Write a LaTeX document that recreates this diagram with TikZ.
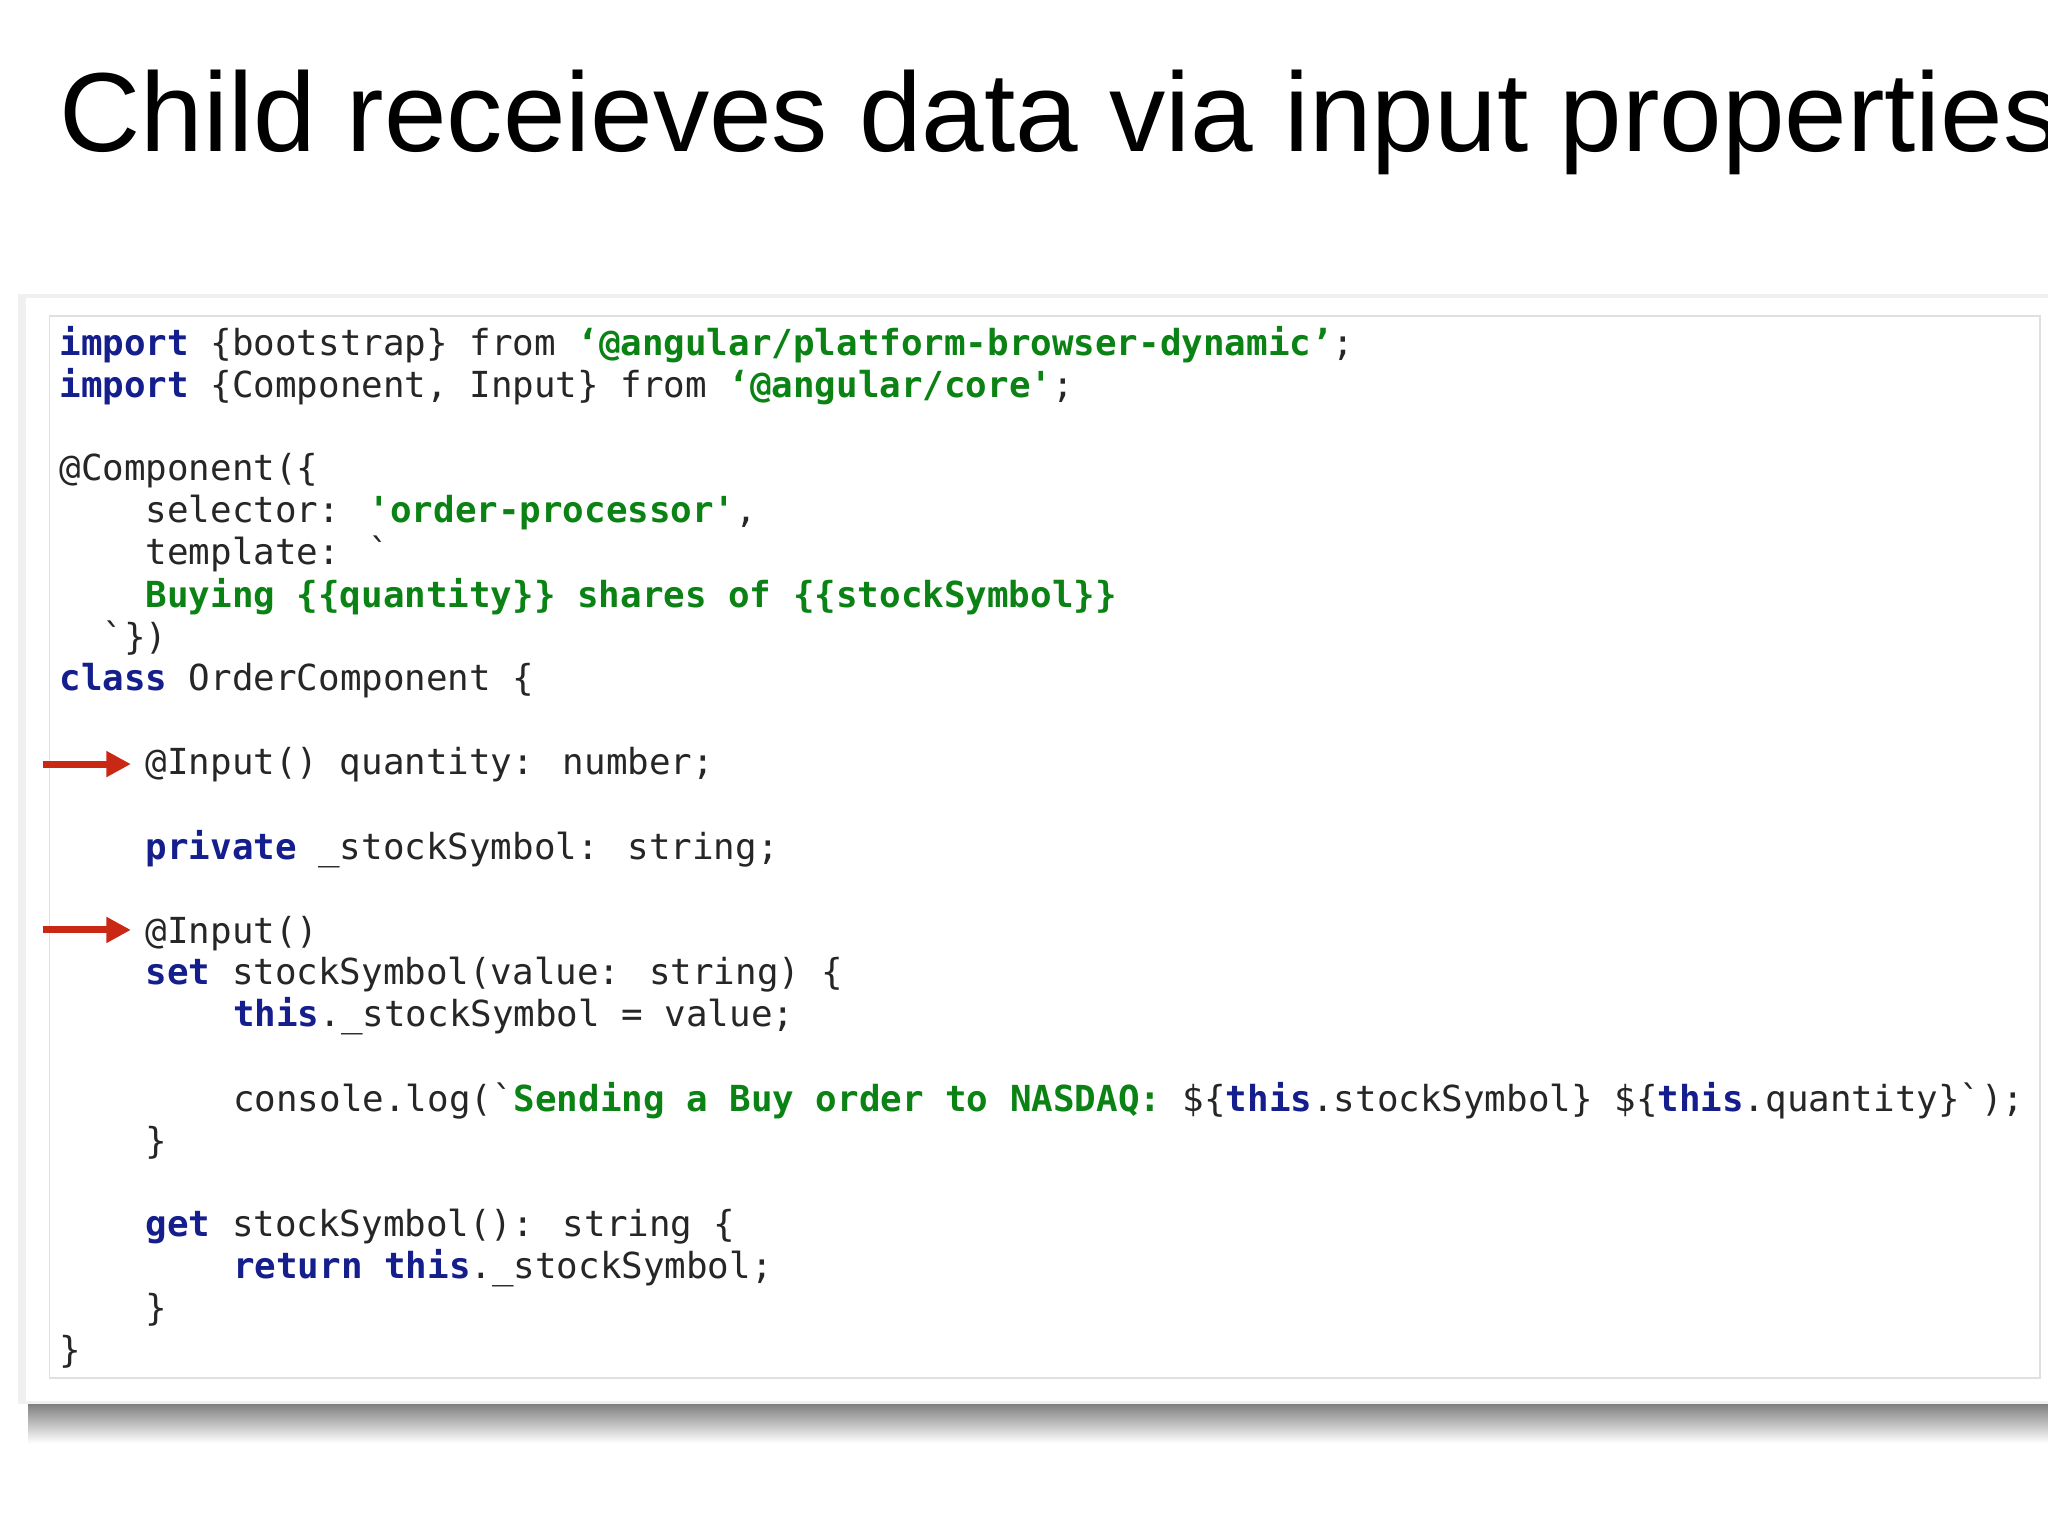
\documentclass[tikz,border=0pt]{standalone}
\usepackage{fontspec}
\setmainfont{Liberation Sans}
\newfontfamily\code{DejaVu Sans Mono}
\usetikzlibrary{arrows.meta}
\definecolor{kw}{RGB}{20,30,140}
\definecolor{st}{RGB}{10,130,20}
\definecolor{arr}{RGB}{200,40,20}
\newcommand{\Kw}[1]{\textcolor{kw}{\textbf{#1}}}
\newcommand{\Str}[1]{\textcolor{st}{\textbf{#1}}}
\newcommand{\bq}{\symbol{96}}
\tikzset{cl/.style={anchor=base west,inner sep=0,font=\code\fontsize{10.2}{12}\selectfont,text=black!85},
 redarrow/.style={draw=arr,line width=2pt,-{Triangle[length=7pt,width=7pt]}}}
\begin{document}
\begin{tikzpicture}[x=0.01306cm,y=-0.01306cm]
\useasboundingbox (0,0) rectangle (1568,1176);
\fill[white] (0,0) rectangle (1568,1176);
\node[anchor=base west,inner sep=0,font=\fontsize{32}{38}\selectfont] (title) at (45,116) {Child receieves data via input properties};
\shade[top color=black!55,bottom color=white] (22,1072) rectangle (1568,1105);
\fill[black!6] (14,225) rectangle (1568,1075);
\fill[white] (20,228) rectangle (1568,1073);
\draw[black!12] (38,242) rectangle (1562,1055);
\node[cl] (l1) at (45,272) {\Kw{import} \{bootstrap\} from \Str{‘@angular/platform-browser-dynamic’};};
\node[cl] (l2) at (45,304) {\Kw{import} \{Component, Input\} from \Str{‘@angular/core'};};
\node[cl] (l3) at (45,368) {@Component(\{};
\node[cl] (l4) at (111,400) {selector: \Str{'order-processor'},};
\node[cl] (l5) at (111,432) {template: \bq};
\node[cl] (l6) at (111,465) {\Str{Buying \{\{quantity\}\} shares of \{\{stockSymbol\}\}}};
\node[cl] (l7) at (78,497) {\bq\})};
\node[cl] (l8) at (45,529) {\Kw{class} OrderComponent \{};
\node[cl] (l9) at (111,593) {@Input() quantity: number;};
\node[cl] (l10) at (111,658) {\Kw{private} \_stockSymbol: string;};
\node[cl] (l11) at (111,722) {@Input()};
\node[cl] (l12) at (111,754) {\Kw{set} stockSymbol(value: string) \{};
\node[cl] (l13) at (178,786) {\Kw{this}.\_stockSymbol = value;};
\node[cl] (l14) at (178,851) {console.log(\bq\Str{Sending a Buy order to NASDAQ:} \$\{\Kw{this}.stockSymbol\} \$\{\Kw{this}.quantity\}\bq);};
\node[cl] (l15) at (111,883) {\}};
\node[cl] (l16) at (111,947) {\Kw{get} stockSymbol(): string \{};
\node[cl] (l17) at (178,979) {\Kw{return} \Kw{this}.\_stockSymbol;};
\node[cl] (l18) at (111,1011) {\}};
\node[cl] (l19) at (45,1043) {\}};
\coordinate (a1) at (33,585);
\coordinate (a2) at (33,712);
\draw[redarrow] (a1) -- ([xshift=-4pt]l9.west |- a1);
\draw[redarrow] (a2) -- ([xshift=-4pt]l11.west |- a2);
\end{tikzpicture}
\end{document}
